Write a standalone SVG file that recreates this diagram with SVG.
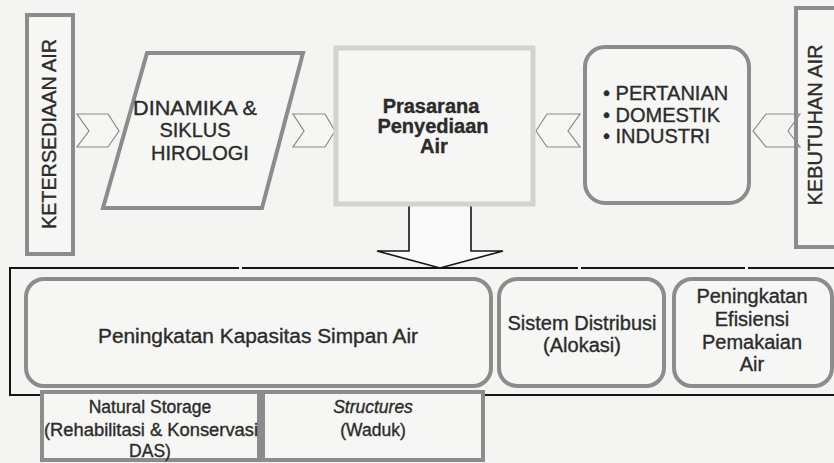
<svg xmlns="http://www.w3.org/2000/svg" width="834" height="463" viewBox="0 0 834 463">
<style>
.bg{fill:#f4f4f2}
.shape{fill:#f6f6f4;stroke:#8c8c8c;stroke-width:4}
.faint{fill:#f6f6f4;stroke:#d2d2d0;stroke-width:5}
.chev{fill:#f6f6f4;stroke:#8a8a8a;stroke-width:1.2}
.line{fill:none;stroke:#151515;stroke-width:2}
.arrow{fill:#fafafa;stroke:#151515;stroke-width:1.6}
text{font-family:"Liberation Sans",Arial,sans-serif;fill:#2b2b2b;stroke:#2b2b2b;stroke-width:0.35;font-size:20px}
.c{text-anchor:middle}
.b{font-weight:bold}
.s{font-size:17.5px}
</style>
<rect class="bg" x="0" y="0" width="834" height="463"/>

<g id="connectors">
  <polygon class="chev" points="77,114 108,114 119,131 108,147 77,147 89,131"/>
  <polygon class="chev" points="293,114 325,114 335,131 325,147 293,147 304,131"/>
  <polygon class="chev" points="536,131 547,114 580,114 568,131 580,147 547,147"/>
  <polygon class="arrow" points="409,202 471,202 471,251 503,251 440,268 377,251 409,251"/>
</g>

<g id="ketersediaan">
  <rect class="shape" x="27" y="15" width="46" height="239"/>
  <text class="c" transform="translate(56,134) rotate(-90)" textLength="190" lengthAdjust="spacingAndGlyphs">KETERSEDIAAN AIR</text>
</g>

<g id="dinamika">
  <polygon class="shape" points="147,53 303,53 262,208 103,208"/>
  <text class="c" x="195" y="115" textLength="124" lengthAdjust="spacingAndGlyphs">DINAMIKA &amp;</text>
  <text class="c" x="195" y="137">SIKLUS</text>
  <text class="c" x="200" y="160">HIROLOGI</text>
</g>

<g id="prasarana">
  <rect class="faint" x="336" y="48" width="197" height="156"/>
  <text class="c b" x="431" y="113">Prasarana</text>
  <text class="c b" x="433" y="133">Penyediaan</text>
  <text class="c b" x="434" y="153">Air</text>
</g>

<g id="sektor">
  <rect class="shape" x="585" y="47" width="164" height="156" rx="20"/>
  <text x="603" y="100">• PERTANIAN</text>
  <text x="603" y="122">• DOMESTIK</text>
  <text x="603" y="143">• INDUSTRI</text>
</g>

<g id="kebutuhan">
  <rect class="shape" x="796" y="8" width="46" height="239"/>
  <text class="c" transform="translate(822,125) rotate(-90)">KEBUTUHAN AIR</text>
  <polygon class="chev" style="fill:none" points="753,131 766,114 800,114 788,131 800,147 766,147"/>
</g>

<g id="upaya">
  <path class="line" d="M10,268 H239 M242,268 H578 M581,268 H745 M748,268 H834 M10,267 V395 H834"/>
</g>

<g id="kapasitas">
  <rect class="shape" x="26" y="279" width="465" height="107" rx="18"/>
  <text class="c" x="258" y="343" textLength="320" lengthAdjust="spacingAndGlyphs">Peningkatan Kapasitas Simpan Air</text>
</g>

<g id="distribusi">
  <rect class="shape" x="499" y="279" width="165" height="107" rx="18"/>
  <text class="c" x="582" y="330">Sistem Distribusi</text>
  <text class="c" x="582" y="352">(Alokasi)</text>
</g>

<g id="efisiensi">
  <rect class="shape" x="674" y="279" width="158" height="107" rx="18"/>
  <text class="c" x="752" y="303">Peningkatan</text>
  <text class="c" x="752" y="326">Efisiensi</text>
  <text class="c" x="752" y="349">Pemakaian</text>
  <text class="c" x="752" y="371">Air</text>
</g>

<g id="natural">
  <rect class="shape" x="42" y="392" width="217" height="68"/>
  <text class="c s" x="150" y="413">Natural Storage</text>
  <text class="c s" x="151" y="436" textLength="214" lengthAdjust="spacingAndGlyphs">(Rehabilitasi &amp; Konservasi</text>
  <text class="c s" x="150" y="457">DAS)</text>
</g>

<g id="structures">
  <rect class="shape" x="263" y="392" width="220" height="68"/>
  <text class="c s" x="373" y="413" font-style="italic">Structures</text>
  <text class="c s" x="373" y="436">(Waduk)</text>
</g>
</svg>
